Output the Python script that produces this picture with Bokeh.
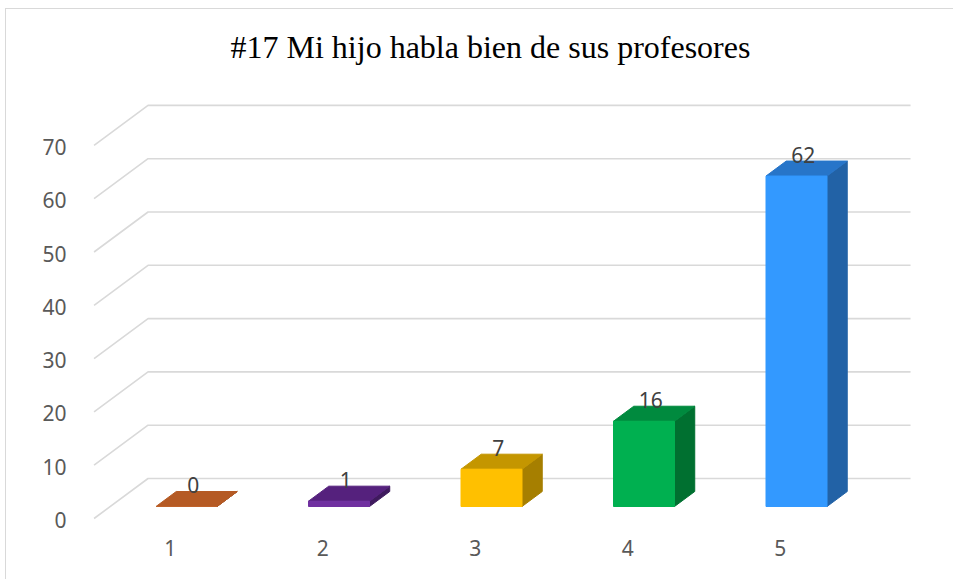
from bokeh.plotting import figure
from bokeh.models import Range1d, LinearAxis, FixedTicker, ColumnDataSource
from bokeh.embed import file_html
from bokeh.resources import INLINE
from bokeh.core.properties import value

# ---------------- data ----------------
title_text = "#17 Mi hijo habla bien de sus profesores"
categories = ["1", "2", "3", "4", "5"]
counts = [0, 1, 7, 16, 62]
y_ticks = [0, 10, 20, 30, 40, 50, 60, 70]

front_colors = ["#C0622A", "#7030A0", "#FFC000", "#00B050", "#3399FF"]
top_colors = ["#B55A24", "#55217D", "#C49600", "#008A3E", "#2775C9"]
side_colors = ["#8F451A", "#3F1A5E", "#A67F00", "#007030", "#2262A6"]

# ---------------- layout / projection constants ----------------
W, H = 948, 571
L, R, T, B = 72, 42, 61, 53
px_per_cat = 152.5
px_per_unit = 5.33
cat0_px = 27.5      # figure x-pixel of category position 0 (bar front plane)
val0_px = 497.0     # figure y-pixel of value 0 (bar front plane)

x_start = (L - cat0_px) / px_per_cat
x_end = (W - R - cat0_px) / px_per_cat
y_end = (val0_px - T) / px_per_unit
y_start = (val0_px - (H - B)) / px_per_unit

depth_dx, depth_dy = 0.354, 7.5   # full floor depth in data units
t_front, t_bar = 0.30, 0.375      # bar front depth fraction and bar depth fraction
bar_w = 0.4
n = len(categories)
xpos = [i + 1 for i in range(n)]

p = figure(width=W, height=H, output_backend="svg", toolbar_location=None,
           x_range=Range1d(x_start, x_end), y_range=Range1d(y_start, y_end),
           x_axis_location=None, y_axis_location=None,
           min_border_left=L, min_border_right=R, min_border_top=T, min_border_bottom=B)
p.grid.visible = False
p.outline_line_color = None
p.background_fill_color = "white"
p.border_fill_color = "white"
p.styles = {"margin-left": "5px", "margin-top": "8px",
            "border-top": "1px solid #D9D9D9", "border-left": "1px solid #D9D9D9"}

# extra ranges for the axis labels that sit on the floor front edge
shift_x = t_front * depth_dx
shift_y = t_front * depth_dy + 0.3
p.extra_x_ranges = {"xcat": Range1d(x_start + shift_x, x_end + shift_x)}
p.extra_y_ranges = {"yfront": Range1d(y_start + shift_y, y_end + shift_y)}

label_font = "Noto Sans"
label_size = "21px"

yax = LinearAxis(y_range_name="yfront", ticker=FixedTicker(ticks=y_ticks))
yax.axis_line_color = None
yax.major_tick_line_color = None
yax.minor_tick_line_color = None
yax.major_label_standoff = 6
yax.major_label_text_font = label_font
yax.major_label_text_font_size = label_size
yax.major_label_text_color = "#595959"
p.add_layout(yax, "left")

xax = LinearAxis(x_range_name="xcat", ticker=FixedTicker(ticks=xpos),
                 major_label_overrides={x: c for x, c in zip(xpos, categories)})
xax.axis_line_color = None
xax.major_tick_line_color = None
xax.minor_tick_line_color = None
xax.major_label_standoff = 6
xax.major_label_text_font = label_font
xax.major_label_text_font_size = label_size
xax.major_label_text_color = "#595959"
p.add_layout(xax, "below")

# title
p.title.text = title_text
p.title.align = "left"
p.title.offset = 152
p.title.text_font = "Liberation Serif"
p.title.text_font_size = "32px"
p.title.text_font_style = "normal"
p.title.text_color = "#000000"
p.title.standoff = 12

# gridlines: left wall diagonal + back wall horizontal
left_x = xpos[0] - 0.5
right_x = xpos[-1] + 0.5
gx, gy = [], []
for v in y_ticks:
    gx.append([left_x - t_front * depth_dx, left_x + (1 - t_front) * depth_dx, right_x + (1 - t_front) * depth_dx])
    gy.append([v - t_front * depth_dy, v + (1 - t_front) * depth_dy, v + (1 - t_front) * depth_dy])
p.multi_line(gx, gy, line_color="#D9D9D9", line_width=1.6)

# bars
ddx = t_bar * depth_dx
ddy = t_bar * depth_dy
side_xs, side_ys, top_xs, top_ys = [], [], [], []
for x, v in zip(xpos, counts):
    xl, xr = x - bar_w / 2, x + bar_w / 2
    side_xs.append([xr, xr + ddx, xr + ddx, xr])
    side_ys.append([0, ddy, v + ddy, v])
    top_xs.append([xl, xr, xr + ddx, xl + ddx])
    top_ys.append([v, v, v + ddy, v + ddy])

p.patches(side_xs, side_ys, fill_color=side_colors, line_color=side_colors, line_width=1)
p.patches(top_xs, top_ys, fill_color=top_colors, line_color=top_colors, line_width=1)
p.quad(left=[x - bar_w / 2 for x in xpos], right=[x + bar_w / 2 for x in xpos],
       bottom=[0] * n, top=counts, fill_color=front_colors, line_color=front_colors, line_width=1)

# data labels
lab_src = ColumnDataSource(dict(x=[x + 0.045 for x in xpos], y=[v + 4.0 for v in counts],
                                t=[str(v) for v in counts]))
p.text(x="x", y="y", text="t", source=lab_src, text_align="center", text_baseline="middle",
       text_font=value(label_font), text_font_size=label_size, text_color="#404040")

open("out.html", "w").write(file_html(p, INLINE))
